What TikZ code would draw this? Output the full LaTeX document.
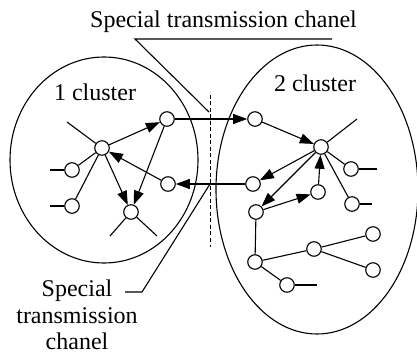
\documentclass[tikz,border=0pt]{standalone}
\usepackage{fontspec}
\setmainfont{Liberation Serif}
\usetikzlibrary{arrows.meta}

\begin{document}
\begin{tikzpicture}[x=1pt,y=-1pt,
    nd/.style={circle, draw, fill=white, inner sep=0pt, minimum size=14.5pt, line width=1.1pt},
    link/.style={line width=1.1pt},
    arr/.style={line width=1.1pt, -{Triangle[length=14pt,width=10pt]}},
    lbl/.style={font=\fontsize{24}{26.5}\selectfont, inner sep=0pt}]
      \useasboundingbox (0,0) rectangle (417,355);
      % clusters
      \draw[link] (104,160) ellipse [x radius=94, y radius=103];
      \draw[link] (317,189.5) ellipse [x radius=101, y radius=144.5];
      \draw[dashed, line width=0.9pt, dash pattern=on 4pt off 2.5pt] (210,95) -- (210,247);
      \node[lbl, anchor=base] (c1) at (95,101) {1 cluster};
      \node[lbl, anchor=base] (c2) at (315,92) {2 cluster};
      % cluster 1
      \node[nd] (a1) at (102,148) {};
      \node[nd] (a2) at (167,119) {};
      \node[nd] (a3) at (168,184) {};
      \node[nd] (a4) at (72,170) {};
      \node[nd] (a5) at (72,206) {};
      \node[nd] (a6) at (131,212) {};
      \coordinate (s1) at (67,122);
      \coordinate (s4) at (50,170);
      \coordinate (s5) at (50,206);
      \coordinate (s6) at (110,236);
      \coordinate (s7) at (157,236);
      \draw[link] (a1) -- (s1);
      \draw[link] (a1) -- (a4);
      \draw[link] (a1) -- (a5);
      \draw[link] (a4) -- (s4);
      \draw[link] (a5) -- (s5);
      \draw[link] (a6) -- (s6);
      \draw[link] (a6) -- (s7);
      \draw[arr] (a1) -- (a2);
      \draw[arr] (a3) -- (a1);
      \draw[arr] (a1) -- (a6);
      \draw[arr] (a2) -- (a6);
      % cluster 2
      \node[nd] (b1) at (255,119) {};
      \node[nd] (b2) at (321,147) {};
      \node[nd] (b3) at (253,184) {};
      \node[nd] (b4) at (318,192) {};
      \node[nd] (b5) at (256,212) {};
      \node[nd] (b6) at (351,169) {};
      \node[nd] (b7) at (352,204) {};
      \node[nd] (b8) at (255,262) {};
      \node[nd] (b9) at (314,249) {};
      \node[nd] (b10) at (373,234) {};
      \node[nd] (b11) at (373,270) {};
      \node[nd] (b12) at (287,285) {};
      \coordinate (t2) at (357,119);
      \coordinate (t6) at (377,169);
      \coordinate (t7) at (372,204);
      \coordinate (t12) at (317,285);
      \draw[link] (b2) -- (t2);
      \draw[link] (b2) -- (b6);
      \draw[link] (b2) -- (b7);
      \draw[link] (b6) -- (t6);
      \draw[link] (b7) -- (t7);
      \draw[link] (b5) -- (b8);
      \draw[link] (b8) -- (b9);
      \draw[link] (b9) -- (b10);
      \draw[link] (b9) -- (b11);
      \draw[link] (b8) -- (b12);
      \draw[link] (b12) -- (t12);
      \draw[arr] (b1) -- (b2);
      \draw[arr] (b2) -- (b3);
      \draw[arr] (b2) -- (b5);
      \draw[arr] (b5) -- (b4);
      \draw[arr] (b4) -- (b2);
      % special channels
      \draw[arr] (a2) -- (b1);
      \draw[arr] (b3) -- (a3);
      \node[lbl, anchor=base] (top) at (223.5,28) {Special transmission chanel};
      \coordinate (u1) at (332,39);
      \coordinate (u2) at (135,39);
      \coordinate (u3) at (209,112);
      \draw[link] (u1) -- (u2) -- (u3);
      \node[lbl, align=center, anchor=north] (bot) at (77,280) {Special\\transmission\\chanel};
      \coordinate (v1) at (125,292);
      \coordinate (v2) at (142,292);
      \coordinate (v3) at (210,184);
      \draw[link] (v1) -- (v2) -- (v3);
\end{tikzpicture}
\end{document}
